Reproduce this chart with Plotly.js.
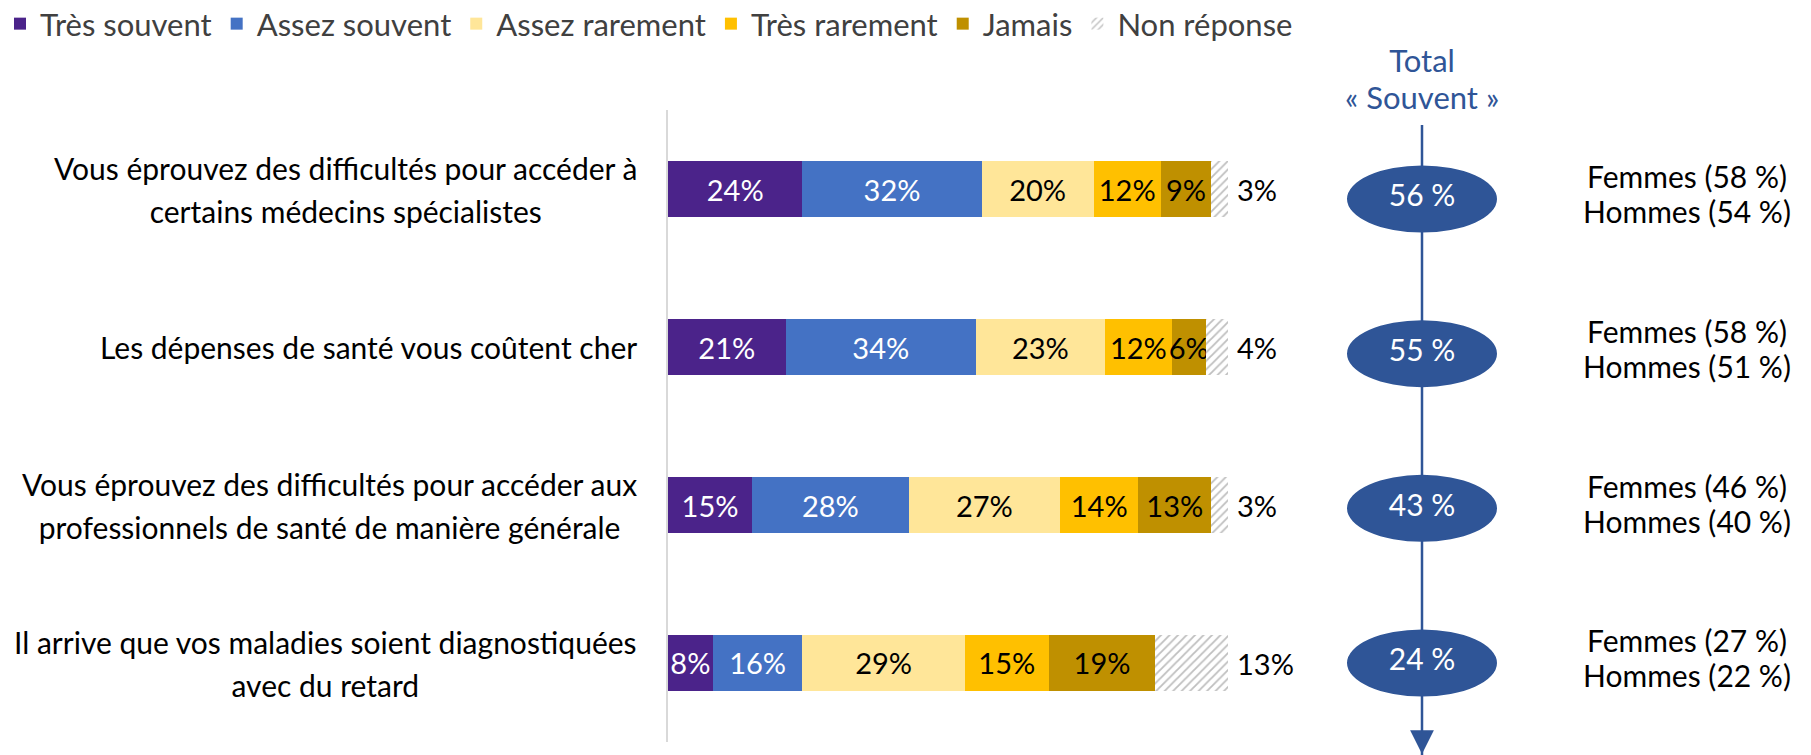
<!DOCTYPE html>
<html><head><meta charset="utf-8">
<script src="https://cdn.plot.ly/plotly-3.0.1.min.js"></script>
<style>html,body{margin:0;padding:0;background:#fff}#chart{width:1811px;height:755px}</style>
</head><body><div id="chart"></div>
<script>
// ---------- data ----------
const categories = [
  "Vous éprouvez des difficultés pour accéder à<br>certains médecins spécialistes",
  "Les dépenses de santé vous coûtent cher",
  "Vous éprouvez des difficultés pour accéder aux<br>professionnels de santé de manière générale",
  "Il arrive que vos maladies soient diagnostiquées<br>avec du retard"
];
const seriesNames = ["Très souvent", "Assez souvent", "Assez rarement", "Très rarement", "Jamais", "Non réponse"];
const tresSouvent   = [24, 21, 15, 8];
const assezSouvent  = [32, 34, 28, 16];
const assezRarement = [20, 23, 27, 29];
const tresRarement  = [12, 12, 14, 15];
const jamais        = [9, 6, 13, 19];
const nonReponse    = [3, 4, 3, 13];
const totalSouvent  = [56, 55, 43, 24];
const femmes        = [58, 58, 46, 27];
const hommes        = [54, 51, 40, 22];
const totalTitle = ["Total", "« Souvent »"];

// ---------- styling / layout constants ----------
const FONT = "Lato, 'Open Sans', sans-serif";
const colors = ["#4B238A", "#4472C4", "#FFE699", "#FFC000", "#BF9000", "#BFBFBF"];
const textColors = ["#FFFFFF", "#FFFFFF", "#000000", "#000000", "#000000", "#000000"];
const W = 1811, H = 755, L = 668, T = 110, B = 13;
const PX_PER_PCT = 5.6;
const plotW = W - L, plotH = H - T - B;
const xOf = px => (px - L) / PX_PER_PCT;
const paperX = px => (px - L) / plotW;
const paperY = py => (H - B - py) / plotH;
const ELL_X = xOf(1422), ELL_HALF_W = 75 / PX_PER_PCT;
const GENDER_X = xOf(1687);
const ell0 = 199, ell3 = 663, ellStep = (ell3 - ell0) / 3, ELL_H = 67;
const blue = "#2F5597";
const span = (s, size) => '<span style="font-size:' + size + 'px">' + s + '</span>';

const series = [tresSouvent, assezSouvent, assezRarement, tresRarement, jamais, nonReponse];
const traces = series.map((vals, k) => {
  const isNR = k === 5;
  return {
    type: "bar", orientation: "h", name: seriesNames[k],
    x: vals, y: categories,
    marker: isNR
      ? {color: "#FFFFFF", line: {width: 0}, pattern: {shape: "/", fgcolor: colors[k], bgcolor: "#FFFFFF", size: 6, solidity: 0.3}}
      : {color: colors[k], line: {width: 0}},
    text: isNR ? vals.map(() => "") : vals.map(v => v + "%"),
    textposition: "inside", insidetextanchor: "middle", textangle: 0,
    constraintext: "none",
    insidetextfont: {family: FONT, size: 29, color: textColors[k]},
    hoverinfo: "skip"
  };
});

const idx = categories.map((c, i) => i);
traces.push({
  type: "scatter", mode: "text", x: idx.map(() => ELL_X), y: idx, xaxis: "x", yaxis: "y2",
  text: totalSouvent.map(v => v + " %"), textposition: "middle center",
  textfont: {family: FONT, size: 30, color: "#FFFFFF"},
  showlegend: false, hoverinfo: "skip", cliponaxis: false
});
traces.push({
  type: "scatter", mode: "text", x: idx.map(() => GENDER_X), y: idx, xaxis: "x", yaxis: "y2",
  text: idx.map(i => span("Femmes (" + femmes[i] + " %)", 30) + "<br>" + span("Hommes (" + hommes[i] + " %)", 30)),
  textposition: "middle center",
  textfont: {family: FONT, size: 27, color: "#000000"},
  showlegend: false, hoverinfo: "skip", cliponaxis: false
});

const shapes = [{
  type: "line", layer: "below", xref: "x", yref: "paper",
  x0: ELL_X, x1: ELL_X, y0: paperY(125), y1: paperY(760),
  line: {color: blue, width: 2.5}
}];
const ellHalfUnits = (ELL_H / 2) / ellStep;
idx.forEach(i => shapes.push({
  type: "circle", layer: "below", xref: "x", yref: "y2",
  x0: ELL_X - ELL_HALF_W, x1: ELL_X + ELL_HALF_W,
  y0: i - ellHalfUnits, y1: i + ellHalfUnits,
  fillcolor: blue, line: {width: 0}
}));

const annotations = [];
categories.forEach((c, i) => {
  const lines = c.split("<br>").map(s => span(s, 30));
  annotations.push({
    xref: "paper", yref: "y", x: paperX(639), y: c,
    xanchor: "right", yanchor: "middle", align: "center", showarrow: false,
    text: lines.join("<br>"), font: {family: FONT, size: 33, color: "#000000"}
  });
  const total = series.reduce((s, arr) => s + arr[i], 0);
  annotations.push({
    xref: "x", yref: "y", x: total, y: c, xanchor: "left", yanchor: "middle",
    xshift: 7, showarrow: false, text: nonReponse[i] + "%",
    font: {family: FONT, size: 29, color: "#000000"}
  });
});
annotations.push({
  xref: "x", yref: "paper", x: ELL_X, y: paperY(79), xanchor: "center", yanchor: "middle",
  showarrow: false, text: totalTitle.map(s => span(s, 31)).join("<br>"), align: "center",
  font: {family: FONT, size: 28.5, color: blue}
});
annotations.push({
  xref: "x", yref: "paper", x: ELL_X, y: paperY(775), ax: 0, ay: -45,
  text: "", showarrow: true, arrowhead: 2, arrowsize: 1.9, arrowwidth: 2.5, arrowcolor: blue
});

const layout = {
  width: W, height: H,
  margin: {l: L, r: 0, t: T, b: B, pad: 0, autoexpand: false},
  paper_bgcolor: "#FFFFFF", plot_bgcolor: "rgba(0,0,0,0)",
  barmode: "stack", bargap: 0.645,
  font: {family: FONT, color: "#000000"},
  xaxis: {range: [0, xOf(W)], visible: false, fixedrange: true},
  yaxis: {type: "category", range: [3.5, -0.5], showticklabels: false, ticks: "",
          showline: true, linecolor: "#D9D9D9", linewidth: 2, showgrid: false, zeroline: false},
  yaxis2: {anchor: "x", range: [3.5, -0.5], visible: false, showgrid: false, zeroline: false,
           domain: [paperY(ell3 + ellStep / 2), paperY(ell0 - ellStep / 2)]},
  showlegend: true,
  legend: {orientation: "h", xref: "paper", yref: "paper", x: paperX(0), y: paperY(-3),
           xanchor: "left", yanchor: "top", traceorder: "normal",
           font: {family: FONT, size: 31, color: "#404040"}, bgcolor: "rgba(0,0,0,0)"},
  shapes: shapes, annotations: annotations
};

Plotly.newPlot("chart", traces, layout, {displayModeBar: false, staticPlot: true});
</script></body></html>
